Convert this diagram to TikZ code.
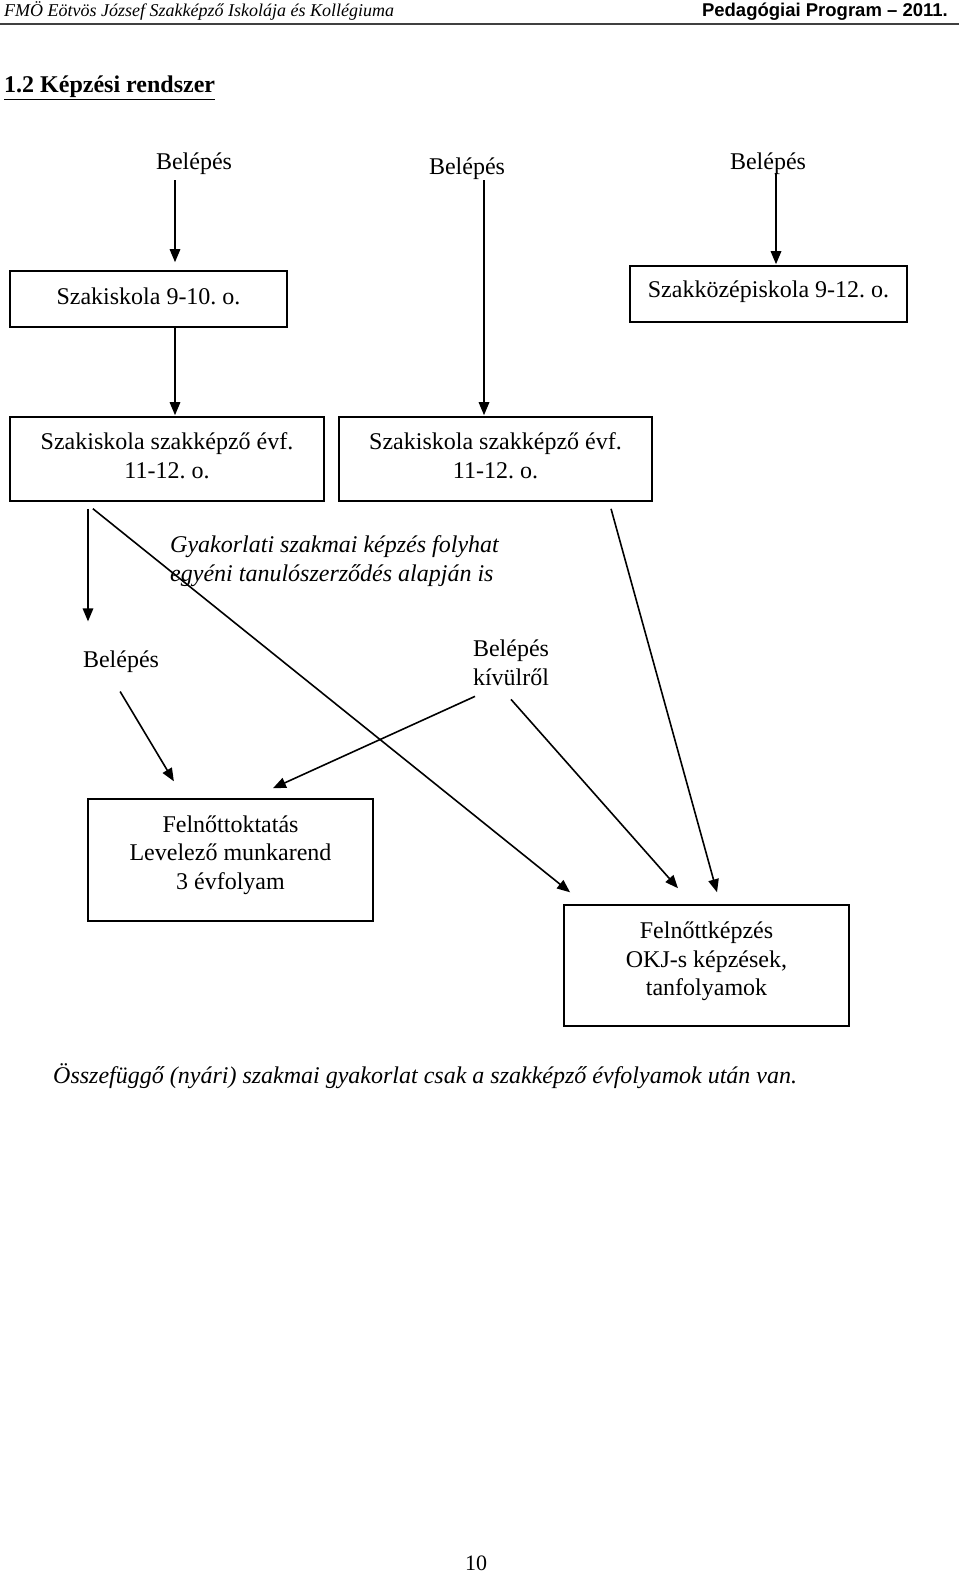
\documentclass[tikz,border=0pt]{standalone}
\usepackage{fontspec}
\setmainfont{Liberation Serif}
\setsansfont{Liberation Sans}
\usepackage{tikz}
\usetikzlibrary{positioning, arrows.meta}

\begin{document}
\begin{tikzpicture}[x=1pt, y=-1pt,
    rm/.style={font=\fontsize{24}{28.5}\selectfont\frenchspacing},
    it/.style={font=\fontsize{24}{29}\selectfont\itshape\frenchspacing},
    box/.style={draw, line width=1.6pt, inner sep=0pt},
    boxtext/.style={rm, align=center, inner sep=0pt},
    txt/.style={rm, align=center, inner sep=0pt},
    arr/.style={-{Triangle[length=13pt, width=10.5pt]}, line width=1.6pt}]
\fill[white] (0,0) rectangle (960,1573);
\useasboundingbox (0,0) rectangle (960,1573);

\node[anchor=west, inner sep=0pt, font=\fontsize{18}{20}\selectfont\itshape] (fejlec) at (4,11) {FMÖ Eötvös József Szakképző Iskolája és Kollégiuma};
\node[anchor=east, inner sep=0pt, font=\fontsize{18.5}{20}\selectfont\sffamily\bfseries] (program) at (948,12) {Pedagógiai Program – 2011.};
\draw[line width=1.4pt, black!75] (0,24) -- (959,24);
\node[anchor=west, inner sep=0pt, font=\fontsize{24}{28}\selectfont\bfseries] (cim) at (4,88) {\underline{1.2 Képzési rendszer}};

\node[txt] (belepes1) at (194,164) {Belépés};
\node[txt] (belepes2) at (467,169) {Belépés};
\node[txt] (belepes3) at (768,164) {Belépés};

\node[box, minimum width=277, minimum height=56, label={[boxtext, yshift=3pt]center:Szakiskola 9-10. o.}] (szak910) at (148.5,299) {};
\node[box, minimum width=277, minimum height=56, label={[boxtext, yshift=2pt]center:Szakközépiskola 9-12. o.}] (szakkozep) at (768.5,294) {};
\node[box, minimum width=314, minimum height=84, label={[boxtext, yshift=3.5pt]center:{Szakiskola szakképző évf.\\11-12. o.}}] (szakkepzo1) at (167,459) {};
\node[box, minimum width=313, minimum height=84, label={[boxtext, yshift=3.5pt]center:{Szakiskola szakképző évf.\\11-12. o.}}] (szakkepzo2) at (495.5,459) {};

\node[it, anchor=west, align=left, inner sep=0pt] (gyakorlat) at (170,561) {Gyakorlati szakmai képzés folyhat\\egyéni tanulószerződés alapján is};

\node[txt] (belepes4) at (121,662) {Belépés};
\node[txt] (kivulrol) at (511,663) {Belépés\\kívülről};

\node[box, minimum width=285, minimum height=122, label={[boxtext, yshift=5pt]center:{Felnőttoktatás\\Levelező munkarend\\3 évfolyam}}] (felnott) at (230.5,860) {};
\node[box, minimum width=285, minimum height=121, label={[boxtext, yshift=4pt]center:{Felnőttképzés\\OKJ-s képzések,\\tanfolyamok}}] (okj) at (706.5,965.5) {};

\node[it, anchor=west, inner sep=0pt] (nyari) at (53,1076) {Összefüggő (nyári) szakmai gyakorlat csak a szakképző évfolyamok után van.};
\node[inner sep=0pt, font=\fontsize{22}{24}\selectfont] (oldal) at (476,1563) {10};

\draw[arr, shorten <=5pt, shorten >=8pt] ([xshift=-19pt]belepes1.south) -- ([xshift=26.5pt]szak910.north);
\draw[arr, shorten >=1pt] ([xshift=26.5pt]szak910.south) -- ([xshift=8pt]szakkepzo1.north);
\draw[arr, shorten >=1pt] ([xshift=17pt]belepes2.south) -- ([xshift=-11.5pt]szakkepzo2.north);
\draw[arr, shorten <=-2.5pt, shorten >=1pt] ([xshift=8pt]belepes3.south) -- ([xshift=7.5pt]szakkozep.north);
\draw[arr, shorten <=7pt, shorten >=29.5pt] ([xshift=-79pt]szakkepzo1.south) -- ([xshift=-33pt]belepes4.north);
\draw[arr, shorten <=11pt, shorten >=19pt] ([xshift=-82.7pt]szakkepzo1.south) -- ([xshift=-121.6pt]okj.north);
\draw[arr, shorten <=7.3pt, shorten >=12.4pt] ([xshift=113.6pt]szakkepzo2.south) -- ([xshift=13.8pt]okj.north);
\draw[arr, shorten <=21.5pt, shorten >=19.7pt] ([xshift=-11.9pt]belepes4.south) -- ([xshift=-46.5pt]felnott.north);
\draw[arr, shorten <=25.3pt, shorten >=24.1pt] ([xshift=-13pt]kivulrol.south) -- ([xshift=20.5pt]felnott.north);
\draw[arr, shorten <=18pt, shorten >=21.3pt] ([xshift=-11.9pt]kivulrol.south) -- ([xshift=-14.4pt]okj.north);
\end{tikzpicture}
\end{document}
